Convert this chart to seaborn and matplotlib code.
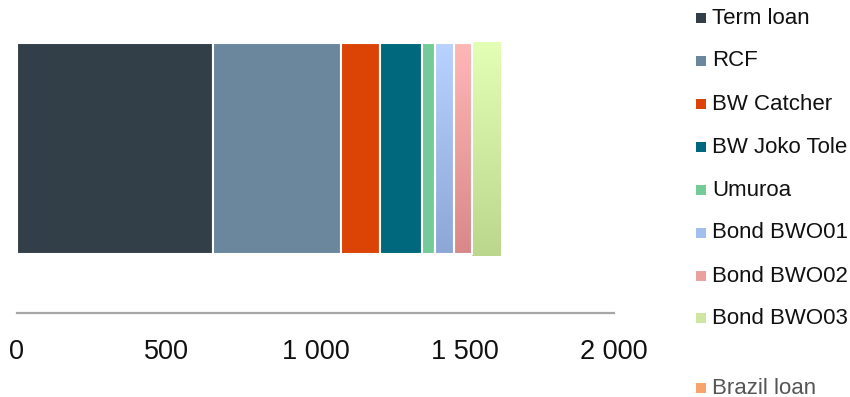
import numpy as np
import matplotlib
matplotlib.use("Agg")
import matplotlib.pyplot as plt
import seaborn as sns
from matplotlib.patches import Rectangle
from matplotlib.colors import LinearSegmentedColormap

# Debt facilities (USD million), stacked left to right
categories = ["Term loan", "RCF", "BW Catcher", "BW Joko Tole", "Umuroa",
              "Bond BWO01", "Bond BWO02", "Bond BWO03", "Brazil loan"]
amounts = [658, 427, 130, 143, 44, 62, 60, 97, 0]

tick_values = [0, 500, 1000, 1500, 2000]
tick_labels = ["0", "500", "1 000", "1 500", "2 000"]

solid_colors = {
    "Term loan": "#333F48",
    "RCF": "#6A879E",
    "BW Catcher": "#DC4405",
    "BW Joko Tole": "#00687C",
    "Umuroa": "#74CB98",
    "Bond BWO01": "#A3BDEC",
    "Bond BWO02": "#EBA0A0",
    "Bond BWO03": "#CFE6A2",
    "Brazil loan": "#F6A46C",
}
# top -> bottom shading for the bond segments
gradients = {
    "Bond BWO01": ("#B8D3FF", "#8CA6D6"),
    "Bond BWO02": ("#FFB7B6", "#D98889"),
    "Bond BWO03": ("#E3FFB6", "#BBD68D"),
}

sns.set_theme(style="white")
plt.rcParams["font.family"] = ["Liberation Sans", "DejaVu Sans"]

W, H = 850, 397
fig = plt.figure(figsize=(W / 100, H / 100), dpi=100)
ax = fig.add_axes([17 / W, (H - 313) / H, (614 - 17) / W, 313 / H])

starts = np.concatenate([[0], np.cumsum(amounts)[:-1]])
bars = {}
for name, start, amt in zip(categories, starts, amounts):
    if amt <= 0:
        continue
    last = name == "Bond BWO03"
    sns.barplot(x=[amt], y=[0], orient="h", left=start, ax=ax,
                color=solid_colors[name], saturation=1,
                width=0.71 if last else 0.7,
                edgecolor="none" if last else "white",
                linewidth=0 if last else 1.5)
    bars[name] = ax.patches[-1]

# vertical gradient fill for the bond segments
ramp = np.linspace(0, 1, 256).reshape(-1, 1)
for name, (c_top, c_bot) in gradients.items():
    patch = bars.get(name)
    if patch is None:
        continue
    x0, y0 = patch.get_xy()
    w, h = patch.get_width(), patch.get_height()
    patch.set_facecolor("none")
    cmap = LinearSegmentedColormap.from_list(name, [c_top, c_bot])
    img = ax.imshow(ramp, cmap=cmap, aspect="auto", origin="upper",
                    extent=[x0, x0 + w, y0 + h, y0], interpolation="bilinear",
                    zorder=patch.get_zorder() - 0.01)
    img.set_clip_path(patch)

ax.set_xlim(0, 2000)
ax.set_ylim(0.5448, -0.4937)
ax.set_xticks(tick_values, tick_labels)
ax.set_yticks([])
ax.set_xlabel("")
ax.set_ylabel("")
ax.tick_params(axis="x", length=0, pad=18.5, labelsize=19.5, labelcolor="#111111")
for side in ["top", "left", "right"]:
    ax.spines[side].set_visible(False)
ax.spines["bottom"].set_color("#A6A6A6")
ax.spines["bottom"].set_linewidth(1.6)

# legend column on the right
legend_rows = [18, 61, 104, 147, 190, 233, 276, 318, 388]
for name, yc in zip(categories, legend_rows):
    faded = name == "Brazil loan"
    fig.patches.append(Rectangle((696 / W, 1 - (yc + 5) / H), 10 / W, 10 / H,
                                 transform=fig.transFigure, figure=fig,
                                 facecolor=solid_colors[name], edgecolor="none"))
    fig.text(712 / W, 1 - yc / H, name, ha="left", va="center",
             fontsize=16, color="#555555" if faded else "#111111")

fig.savefig("out.png", dpi=100)
